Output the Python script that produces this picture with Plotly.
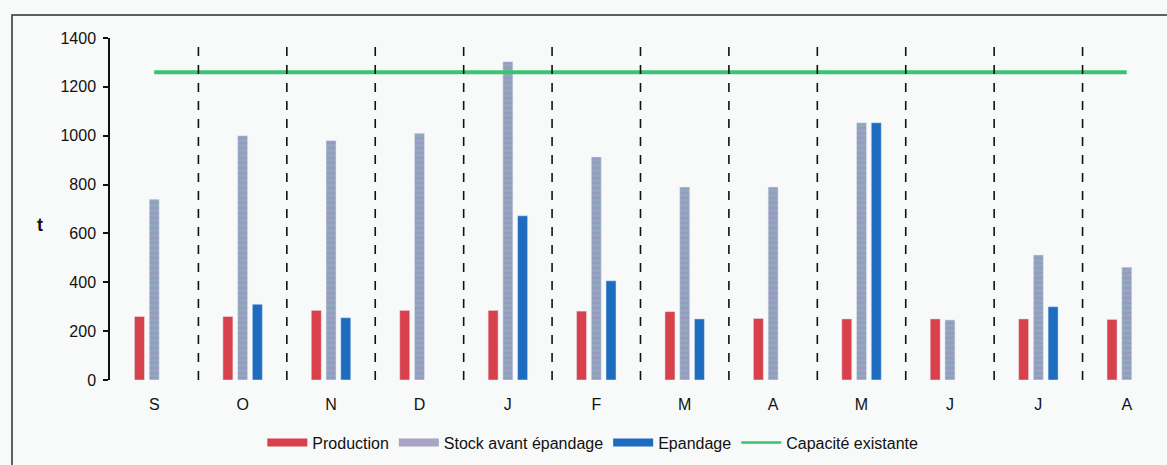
import plotly.graph_objects as go

months = ["S", "O", "N", "D", "J", "F", "M", "A", "M", "J", "J", "A"]
production = [260, 260, 285, 285, 285, 282, 280, 252, 250, 250, 250, 248]
stock = [740, 1000, 980, 1010, 1303, 913, 790, 790, 1053, 246, 512, 462]
epandage = [None, 310, 255, None, 672, 406, 250, None, 1053, None, 300, None]
capacite = [1260] * 12

W, H = 1167, 465
L, R, T, B = 110, 0, 38, 85
FONT = "Liberation Sans, Arial, sans-serif"
BG = "#f8f9f9"

x = list(range(len(months)))
red = "#d8404c"
blue = "#1e6cc0"
green = "#38c472"
stock_bg = "#9c96c8"

fig = go.Figure()
fig.add_bar(x=x, y=production, name="Production", marker_color=red,
            showlegend=False, legendgroup="p")
fig.add_bar(x=x, y=stock, name="Stock avant épandage",
            marker=dict(color=stock_bg,
                        pattern=dict(shape="-", fgcolor="#7cc6a0", bgcolor=stock_bg,
                                     size=5, solidity=0.5)),
            showlegend=False, legendgroup="s")
fig.add_bar(x=x, y=epandage, name="Epandage", marker_color=blue,
            showlegend=False, legendgroup="e")
fig.add_scatter(x=x, y=capacite, mode="lines", name="Capacité existante",
                line=dict(color=green, width=4), showlegend=False, legendgroup="c")

# legend entries drawn as wide swatches (Excel-like)
for name, col, w, g in [("Production", red, 8, "p"),
                        ("Stock avant épandage", "#a8a4c4", 8, "s"),
                        ("Epandage", blue, 8, "e"),
                        ("Capacité existante", green, 2.5, "c")]:
    fig.add_scatter(x=[None], y=[None], mode="lines", name=name,
                    line=dict(color=col, width=w), legendgroup=g)

# dashed separators between months
shapes = []
for i in range(len(months) - 1):
    shapes.append(dict(type="line", xref="x", yref="y", x0=i + 0.5, x1=i + 0.5,
                       y0=0, y1=1400, line=dict(color="#111", width=1.6, dash="dash")))

pw = W - L - R
ph = H - T - B
def px_x(p):
    return (p - L) / pw
def px_y(p):
    return (H - B - p) / ph

# outer frame (partially cropped in the original)
shapes.append(dict(type="rect", xref="paper", yref="paper",
                   x0=px_x(12), x1=px_x(1300), y0=px_y(600), y1=px_y(15),
                   line=dict(color="#2a2e38", width=1.5), layer="below"))

fig.update_layout(
    width=W, height=H,
    margin=dict(l=L, r=R, t=T, b=B),
    paper_bgcolor=BG, plot_bgcolor=BG,
    font=dict(family=FONT, size=16, color="#111"),
    barmode="group", bargap=0.5, bargroupgap=0.32,
    shapes=shapes,
    annotations=[dict(text="<b>t</b>", xref="paper", yref="paper",
                      x=px_x(40), y=px_y(225), showarrow=False,
                      xanchor="center", yanchor="middle",
                      font=dict(family=FONT, size=18, color="#111"))],
    showlegend=True,
    legend=dict(orientation="h", xref="container", yref="container",
                x=0.508, xanchor="center", y=0.048, yanchor="middle",
                font=dict(family=FONT, size=16, color="#111"),
                bgcolor="rgba(0,0,0,0)", itemwidth=40, tracegroupgap=0),
    xaxis=dict(range=[-0.5, 11.455], tickmode="array", tickvals=x, ticktext=months,
               showgrid=False, zeroline=False, showline=False,
               ticks="outside", ticklen=10, tickcolor=BG,
               tickfont=dict(family=FONT, size=16, color="#111")),
    yaxis=dict(range=[0, 1400], dtick=200, showgrid=False, zeroline=False,
               showline=True, linecolor="#111", linewidth=1.5,
               ticks="outside", ticklen=5, tickcolor="#111", tickwidth=1.5,
               ticklabelstandoff=4,
               tickfont=dict(family=FONT, size=16, color="#111")),
)

fig.write_html("out.html")
